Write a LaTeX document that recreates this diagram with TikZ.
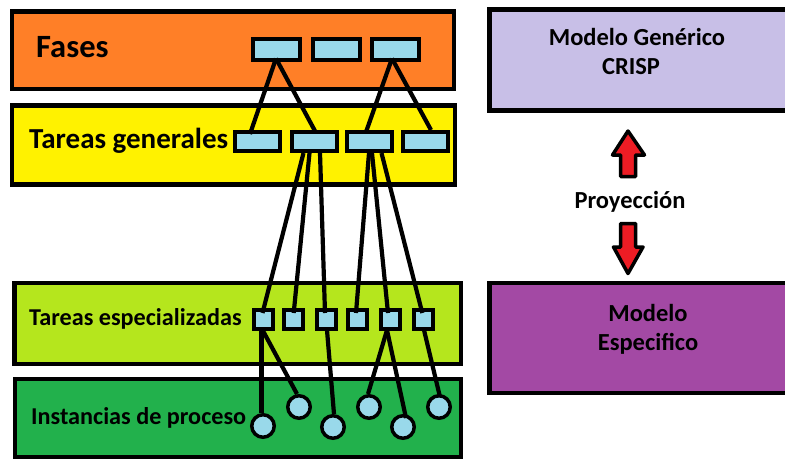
\documentclass[tikz,border=0pt]{standalone}
\usepackage{fontspec}
\setmainfont{Carlito}
\usetikzlibrary{calc}

\definecolor{cOrange}{HTML}{FF7F27}
\definecolor{cYellow}{HTML}{FFF200}
\definecolor{cLime}{HTML}{B5E61D}
\definecolor{cGreen}{HTML}{22B14C}
\definecolor{cItem}{HTML}{99D9EA}
\definecolor{cLavender}{HTML}{C8BFE7}
\definecolor{cPurple}{HTML}{A349A4}
\definecolor{cRed}{HTML}{ED1C24}

\begin{document}
\begin{tikzpicture}[x=1pt,y=-1pt,
  band/.style={draw=black,line width=4.5pt},
  phasebox/.style={draw=black,fill=cItem,line width=4pt,inner sep=0pt,
    minimum width=47pt,minimum height=21pt},
  gtaskbox/.style={phasebox,minimum width=45pt,minimum height=19pt},
  staskbox/.style={draw=black,fill=cItem,line width=4pt,inner sep=0pt,
    minimum width=19pt,minimum height=19pt},
  instdot/.style={circle,draw=black,fill=cItem,line width=3.5pt,inner sep=0pt,
    minimum size=22.5pt},
  link/.style={line width=4.2pt},
  txt/.style={inner sep=0pt,font=\bfseries\fontsize{#1}{#1}\selectfont},
  bigarrow/.style={draw=black,fill=cRed,line width=3.5pt,line join=round}
]
\path[use as bounding box,fill=white] (0,0) rectangle (785,460);

% layer bands
\draw[band,fill=cOrange] (12,11.5) rectangle (454,89);
\draw[band,fill=cYellow] (12,105.5) rectangle (455,184.5);
\draw[band,fill=cLime] (14.5,283) rectangle (461,364);
\draw[band,fill=cGreen] (15,379) rectangle (461,457);

% model boxes on the right
\draw[band,fill=cLavender] (489.5,9.5) rectangle (792,110.5);
\draw[band,fill=cPurple] (489.5,283) rectangle (792,393);

% layer titles
\node[txt=32.5,anchor=base west] (tFases) at (36,57.3) {Fases};
\node[txt=29,anchor=base west] (tGen) at (29,148.3) {Tareas generales};
\node[txt=24.2,anchor=base west] (tEsp) at (29,325) {Tareas especializadas};
\node[txt=24.2,anchor=base west] (tInst) at (31,424.3) {Instancias de proceso};

% right-hand labels
\node[txt=24.5,anchor=base] (tGenerico) at (637,46) {Modelo Genérico};
\node[txt=24.5,anchor=base] (tCrisp) at (631,75) {CRISP};
\node[txt=24.5,anchor=base] (tProy) at (630,208) {Proyección};
\node[txt=24.5,anchor=base] (tModelo) at (648,321.7) {Modelo};
\node[txt=24.5,anchor=base] (tEspec) at (648,350.7) {Especifico};

% projection arrows
\draw[bigarrow] (628,131) -- (644.5,155) -- (635.5,155) -- (635.5,176.5)
  -- (620.5,176.5) -- (620.5,155) -- (612.5,155) -- cycle;
\draw[bigarrow] (620.5,223.5) -- (635.5,223.5) -- (635.5,247) -- (643,247)
  -- (628,273.5) -- (613.5,247) -- (620.5,247) -- cycle;

% phases
\node[phasebox] (f1) at (276,50) {};
\node[phasebox] (f2) at (336.7,50) {};
\node[phasebox] (f3) at (395.5,50) {};

% generic tasks
\node[gtaskbox] (g1) at (257,141.5) {};
\node[gtaskbox] (g2) at (314.5,141.5) {};
\node[gtaskbox] (g3) at (369.5,141.5) {};
\node[gtaskbox] (g4) at (425,141.5) {};

% specialised tasks
\node[staskbox] (s1) at (263.5,319.5) {};
\node[staskbox] (s2) at (293.7,319.5) {};
\node[staskbox] (s3) at (326,319.5) {};
\node[staskbox] (s4) at (357.7,319.5) {};
\node[staskbox] (s5) at (390,319.5) {};
\node[staskbox] (s6) at (423.3,319.5) {};

% process instances
\node[instdot] (c1) at (263,426) {};
\node[instdot] (c2) at (299,407) {};
\node[instdot] (c3) at (333,427) {};
\node[instdot] (c4) at (369,407) {};
\node[instdot] (c5) at (403,427) {};
\node[instdot] (c6) at (439,407) {};

% phases -> generic tasks
\draw[link] ($(f1.south)+(0,-4)$) -- ($(g1.north)+(-7,4)$);
\draw[link] ($(f1.south)+(0,-4)$) -- ($(g2.north)+(0.5,1)$);
\draw[link] ($(f3.south)+(-3.5,-4)$) -- ($(g3.north)+(-3.5,2)$);
\draw[link] ($(f3.south)+(-3.5,-4)$) -- ($(g4.north)+(6,0)$);

% generic tasks -> specialised tasks
\draw[link] ($(g2.south)+(-11,0)$) -- ($(s1.north)+(-1,5)$);
\draw[link] ($(g2.south)+(-5,0)$) -- ($(s2.north)+(0,5)$);
\draw[link] ($(g2.south)+(5.5,0)$) -- ($(s3.north)+(-1,5)$);
\draw[link] ($(g3.south)+(-0.5,0)$) -- ($(s4.north)+(-1.7,5)$);
\draw[link] ($(g3.south)+(2.5,0)$) -- ($(s5.north)+(-2,5)$);
\draw[link] ($(g3.south)+(12,0)$) -- ($(s6.north)+(-1,5)$);

% specialised tasks -> process instances
\draw[link] ($(s1.south)+(-2,-2)$) -- ($(c1.north)+(-1.5,0)$);
\draw[link] ($(s1.south)+(-1.5,-2)$) -- ($(c2.north)+(-2,0)$);
\draw[link] ($(s3.south)+(1,-1)$) -- ($(c3.north)+(1,0)$);
\draw[link] ($(s5.south)+(-3,-1)$) -- ($(c4.north)+(-1,0)$);
\draw[link] ($(s5.south)+(-3,-1)$) -- ($(c5.north)+(3,4)$);
\draw[link] ($(s6.south)+(0.7,-1)$) -- ($(c6.north)+(1,3)$);
\end{tikzpicture}
\end{document}
